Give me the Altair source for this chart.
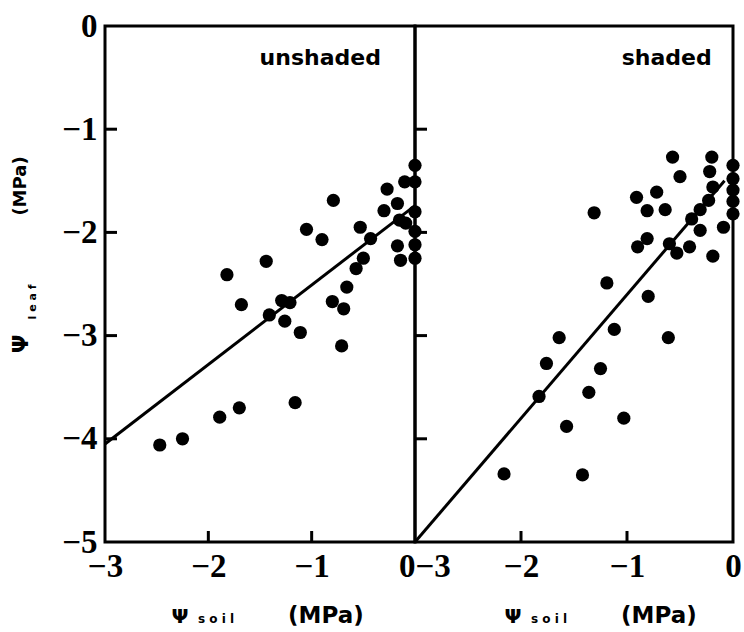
import altair as alt
import pandas as pd

# Soil water potential vs. leaf water potential (MPa)
unshaded_soil = [0.0, -0.10, 0.0, -0.27, -0.79, -0.17, -0.30, 0.0, -1.05, -0.90,
                 -0.53, -0.43, -0.15, -0.09, 0.0, -0.17, 0.0, -0.14, 0.0, -0.50,
                 -0.57, -0.66, -1.44, -1.82, -1.68, -1.29, -1.21, -1.41, -1.26, -1.11,
                 -0.80, -0.69, -0.71, -1.16, -1.70, -1.89, -2.25, -2.47]
unshaded_leaf = [-1.35, -1.51, -1.51, -1.58, -1.69, -1.72, -1.79, -1.80, -1.97, -2.07,
                 -1.95, -2.06, -1.88, -1.91, -1.99, -2.13, -2.12, -2.27, -2.25, -2.25,
                 -2.35, -2.53, -2.28, -2.41, -2.70, -2.66, -2.68, -2.80, -2.86, -2.97,
                 -2.67, -2.74, -3.10, -3.65, -3.70, -3.79, -4.00, -4.06]

shaded_soil = [-0.57, -0.50, -0.20, -0.22, -0.19, -0.23, -0.31, -0.39, -0.31, 0.0,
               0.0, 0.0, 0.0, 0.0, -0.09, -0.91, -0.72, -0.81, -0.64, -1.31,
               -0.81, -0.90, -0.60, -0.53, -0.41, -0.19, -1.19, -0.80, -1.12, -1.64,
               -1.76, -1.25, -1.83, -1.36, -0.61, -1.03, -1.57, -2.16, -1.42]
shaded_leaf = [-1.27, -1.46, -1.27, -1.41, -1.56, -1.69, -1.78, -1.87, -1.98, -1.35,
               -1.48, -1.59, -1.70, -1.82, -1.95, -1.66, -1.61, -1.79, -1.78, -1.81,
               -2.06, -2.14, -2.11, -2.20, -2.14, -2.23, -2.49, -2.62, -2.94, -3.02,
               -3.27, -3.32, -3.59, -3.55, -3.02, -3.80, -3.88, -4.34, -4.35]

# Regression lines
unshaded_fit_soil = [-3.0, 0.0]
unshaded_fit_leaf = [-4.05, -1.74]
shaded_fit_soil = [-3.0, -0.08]
shaded_fit_leaf = [-5.0, -1.50]

x_label_values = [-3, -2, -1, 0]
y_label_values = [0, -1, -2, -3, -4, -5]
x_tick_values = [-2, -1]
y_tick_values = [-1, -2, -3, -4]

H = 516
NUM_FONT = "Liberation Sans Narrow"
TXT_FONT = "DejaVu Sans"

x_scale = alt.Scale(domain=[-3, 0], nice=False, zero=False)
y_scale = alt.Scale(domain=[-5, 0], nice=False, zero=False)


def label(text, x, y, size, angle=0, align="center", baseline="middle"):
    return alt.Chart(alt.Data(values=[{"t": text}])).mark_text(
        font=TXT_FONT, fontSize=size, fontWeight="bold", color="black",
        align=align, baseline=baseline, angle=angle,
    ).encode(x=alt.value(x), y=alt.value(y), text="t:N")


def panel(soil, leaf, fit_soil, fit_leaf, name, name_x, width, left, flush_align):
    pts = pd.DataFrame({"soil": soil, "leaf": leaf})
    fit = pd.DataFrame({"soil": fit_soil, "leaf": fit_leaf})

    x_axis = alt.Axis(
        values=x_label_values, format="d", title=None, labelFlush=False,
        labelAlign={"condition": {"test": f"datum.value == {flush_align[0]}",
                                  "value": flush_align[1]}, "value": "center"},
    )
    y_axis = alt.Axis(values=y_label_values, format="d", title=None) if left else None

    def enc_x(field):
        return alt.X(field, scale=x_scale, axis=x_axis)

    def enc_y(field):
        return alt.Y(field, scale=y_scale, axis=y_axis)

    points = alt.Chart(pts).mark_circle(size=175, color="black", opacity=1).encode(
        x=enc_x("soil:Q"), y=enc_y("leaf:Q"),
    )
    line = alt.Chart(fit).mark_line(color="black", strokeWidth=3).encode(
        x=enc_x("soil:Q"), y=enc_y("leaf:Q"),
    )
    xt = alt.Chart(pd.DataFrame({"soil": x_tick_values})).mark_rule(
        color="black", strokeWidth=3).encode(
        x=enc_x("soil:Q"), y=alt.value(H), y2=alt.value(H - 11),
    )
    yt = alt.Chart(pd.DataFrame({"leaf": y_tick_values})).mark_rule(
        color="black", strokeWidth=3).encode(
        y=enc_y("leaf:Q"), x=alt.value(0), x2=alt.value(12),
    )
    tag = alt.Chart(pd.DataFrame({"soil": [name_x], "leaf": [-0.38], "t": [name]})).mark_text(
        font=TXT_FONT, fontSize=22, fontWeight="bold", color="black",
        align="right", baseline="alphabetic",
    ).encode(x=enc_x("soil:Q"), y=enc_y("leaf:Q"), text="t:N")

    # x-axis title: Ψ with small "soil" and (MPa)
    off = 75 if left else 98
    xtitle = [
        label("Ψ", off, 597, 20, baseline="alphabetic"),
        label("s o i l", off + 18, 597, 12, align="left", baseline="alphabetic"),
        label("(MPa)", off + 108, 597, 23, align="left", baseline="alphabetic"),
    ]
    layers = [points, line, xt, yt, tag] + xtitle
    if left:
        # y-axis title: Ψ with small "leaf" and (MPa), rotated
        layers += [
            label("Ψ", -84, 318, 22, angle=270),
            label("l e a f", -72, 276, 11, angle=270),
            label("(MPa)", -84, 160, 18, angle=270),
        ]
    return alt.layer(*layers).properties(width=width, height=H)


left = panel(unshaded_soil, unshaded_leaf, unshaded_fit_soil, unshaded_fit_leaf,
             "unshaded", -0.33, 310, True, (0, "right"))
right = panel(shaded_soil, shaded_leaf, shaded_fit_soil, shaded_fit_leaf,
              "shaded", -0.20, 318, False, (-3, "left"))

chart = alt.hconcat(left, right, spacing=0, bounds="flush").configure_view(
    stroke="black", strokeWidth=3
).configure_axis(
    domain=False, ticks=False, grid=False,
    labelFont=NUM_FONT, labelFontSize=33, labelFontWeight="bold",
    labelColor="black", labelPadding=8,
).properties(
    padding={"left": 8, "top": 8, "right": 0, "bottom": 0},
    background="white",
)

chart.save("out.html", embed_options={"renderer": "svg", "actions": False})
